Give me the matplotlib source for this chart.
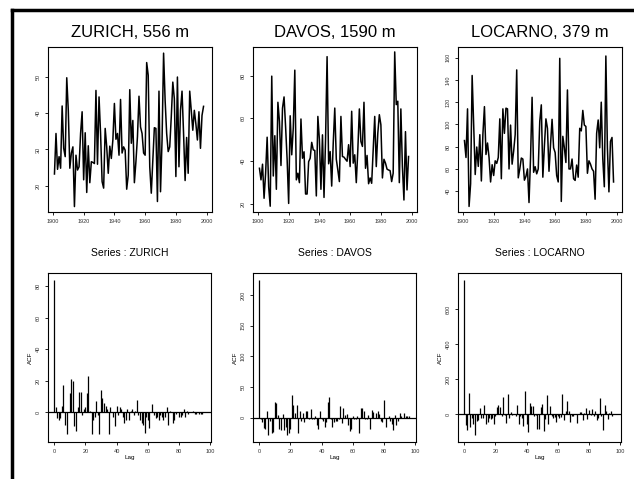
import matplotlib
matplotlib.use("Agg")
import matplotlib.pyplot as plt
from matplotlib.lines import Line2D

plt.rcParams['font.family'] = ['Liberation Sans', 'DejaVu Sans']

# jahre
jahre = list(range(1901, 1999))

zurich = [23.2, 34.4, 24.5, 28.0, 24.8, 42.0, 30.3, 28.0, 49.8, 40.8,
          24.8, 29.0, 30.7, 14.2, 28.4, 24.3, 25.2, 34.4, 40.4, 21.6,
          34.6, 18.1, 31.0, 20.8, 26.6, 26.4, 26.1, 46.3, 25.9, 44.5,
          34.4, 21.1, 19.3, 35.8, 30.7, 23.4, 30.9, 27.5, 32.6, 42.7,
          32.8, 34.4, 28.4, 43.8, 29.0, 30.7, 29.8, 19.0, 22.9, 46.5,
          31.7, 38.0, 20.8, 26.6, 33.5, 44.7, 36.2, 34.4, 29.0, 28.4,
          54.0, 50.5, 25.2, 17.9, 27.0, 36.0, 35.8, 15.6, 46.1, 18.3,
          32.6, 56.6, 43.6, 34.4, 29.4, 30.7, 39.0, 48.6, 44.0, 22.5,
          50.0, 25.2, 40.8, 46.1, 34.4, 21.4, 33.3, 23.4, 46.1, 40.8,
          35.3, 40.8, 37.1, 32.6, 40.4, 30.3, 39.4, 41.9]

davos = [36.7, 31.3, 38.6, 22.7, 34.4, 51.2, 28.0, 19.0, 79.7, 33.1,
         51.9, 26.9, 67.5, 58.6, 38.0, 64.8, 70.0, 56.2, 40.9, 20.3,
         61.2, 43.0, 55.5, 82.5, 31.3, 34.4, 30.0, 59.7, 41.4, 44.4,
         24.7, 24.7, 39.8, 41.4, 48.8, 45.3, 45.0, 23.8, 60.9, 50.0,
         26.9, 52.3, 23.1, 50.0, 88.8, 38.8, 44.5, 28.4, 48.4, 64.8,
         40.9, 35.9, 30.5, 60.9, 42.2, 41.9, 40.9, 40.0, 47.7, 37.5,
         63.3, 39.1, 43.0, 30.0, 45.3, 64.4, 49.2, 46.9, 67.5, 36.7,
         42.7, 29.5, 32.2, 29.7, 45.3, 60.9, 37.5, 53.1, 61.7, 57.0,
         32.2, 40.9, 39.1, 36.3, 35.9, 35.6, 30.5, 34.4, 91.0, 66.4,
         68.0, 30.0, 64.4, 37.5, 21.9, 53.8, 26.6, 42.2]

locarno = [85.5, 70.3, 114.0, 26.3, 46.7, 144.0, 99.4, 55.0, 79.7, 62.3,
           90.8, 49.2, 91.3, 116.0, 73.0, 83.3, 70.3, 48.3, 63.8, 54.1,
           67.3, 65.0, 70.3, 105.0, 51.2, 114.0, 92.0, 114.6, 114.0, 60.0,
           99.4, 64.3, 76.0, 90.8, 149.0, 52.0, 60.0, 69.8, 68.9, 49.9,
           53.3, 60.0, 29.8, 70.3, 124.4, 57.0, 62.0, 55.6, 60.0, 103.0,
           117.6, 52.6, 80.4, 105.0, 96.5, 57.9, 81.9, 104.6, 79.0, 74.7,
           54.1, 48.3, 159.4, 30.8, 89.3, 79.0, 65.8, 131.0, 60.0, 60.0,
           68.9, 51.2, 49.7, 63.5, 52.6, 96.5, 94.2, 112.6, 99.4, 98.2,
           56.1, 67.3, 64.3, 60.0, 57.9, 32.8, 92.0, 104.0, 79.0, 120.0,
           68.9, 44.0, 161.5, 79.0, 39.4, 84.8, 88.3, 48.3]

# lags 0..97
lags = list(range(0, 98))

acf_zurich = [84, 3, -4, -5, -4, 4, 17, -8, -14, 0,
              12, 21, 20, -9, -12, 3, 13, 13, -2, 2,
              3, 12, 23, 1, -14, -5, -3, 7, -2, -14,
              14, 9, 6, 4, 2, -14, 3, 0, -3, -9,
              4, -2, 3, 2, -3, -7, -5, 2, -5, 1,
              2, -2, 1, 8, -2, -5, -7, -8, -13, -3,
              -5, -10, 0, 5, -2, -4, -3, -5, -2, -3,
              -5, -3, 3, -8, 1, 0, -7, -5, -1, 0,
              -3, -3, -2, 2, -3, 1, -1, 0, 0, 1,
              -1, -1, 0, -1, -1, -1, 0, 0]

acf_davos = [225, -3, -8, -17, -18, 11, -28, -5, -26, -23,
             25, 24, 4, -19, -21, 5, -21, -15, -28, -25,
             -18, 36, 21, 7, 20, -25, 10, -5, 8, -8,
             11, 11, -2, 14, -3, -2, 2, -12, -18, 11,
             -2, -5, -15, -8, 25, 33, -3, -15, -8, -5,
             -6, -3, 19, -9, 15, 4, 6, -12, -22, -18,
             2, -2, -3, 2, -25, 16, 16, 11, -3, -2,
             4, -18, 13, 9, -1, 8, 10, 5, -5, -8,
             29, -15, -1, 2, -5, -11, -20, 4, -12, -6,
             7, 3, 0, 7, 2, 2, 2, 0]

acf_locarno = [765, -65, -90, 120, -75, -20, -55, -120, -40, -35,
               35, -20, -20, 50, -55, -45, -25, -30, -25, -55,
               -10, 40, 50, 40, -10, 95, -5, -50, 115, -25,
               10, -5, 0, -10, 50, -55, -10, -20, -70, 130,
               -55, -100, 65, 45, 45, -10, -5, -85, -85, 40,
               55, -95, -30, 110, -55, 45, -10, -20, -15, -45,
               -10, -20, -15, 115, -35, 20, 75, 15, -45, -10,
               -10, 0, -50, 0, 10, 10, -35, 5, 35, -30,
               25, -5, 30, -10, 20, -35, -25, 90, -10, -90,
               50, 15, -30, 5, 15, -10, 0, 0]

titel = ["ZURICH, 556 m", "DAVOS, 1590 m", "LOCARNO, 379 m"]
namen = ["ZURICH", "DAVOS", "LOCARNO"]

W, H = 634, 479
fig = plt.figure(figsize=(W / 100, H / 100), dpi=100)


def box(x0, y0, x1, y1):
    # pixel -> figure coords
    return [x0 / W, 1 - y1 / H, (x1 - x0) / W, (y1 - y0) / H]


def stil(ax):
    for s in ax.spines.values():
        s.set_linewidth(0.8)
    ax.tick_params(labelsize=4, length=2.5, width=0.6, pad=2.5, labelcolor='#333333')
    for lab in ax.get_yticklabels():
        lab.set_rotation(90)
        lab.set_va('center')


spalten = [(48, 212), (253, 417), (458, 622)]

# obere reihe: zeitreihen
reihen = [zurich, davos, locarno]
ylims = [(12.7, 58.3), (16.3, 93.3), (21.3, 169.6)]
yticks = [[20, 30, 40, 50], [20, 40, 60, 80], [40, 60, 80, 100, 120, 140, 160]]

for i in range(3):
    x0, x1 = spalten[i]
    ax = fig.add_axes(box(x0, 47, x1, 212))
    ax.plot(jahre, reihen[i], color='black', lw=1.1)
    ax.set_xlim(1896.8, 2003.5)
    ax.set_ylim(*ylims[i])
    ax.set_xticks([1900, 1920, 1940, 1960, 1980, 2000])
    ax.set_yticks(yticks[i])
    stil(ax)
    ax.set_title(titel[i], fontsize=12, pad=7)

# untere reihe: acf
acfs = [acf_zurich, acf_davos, acf_locarno]
alims = [(-19, 88.5), (-40, 236), (-160, 807)]
aticks = [[0, 20, 40, 60, 80], [0, 50, 100, 150, 200], [0, 200, 400, 600]]

for i in range(3):
    x0, x1 = spalten[i]
    ax = fig.add_axes(box(x0, 273, x1 - 1, 442))
    ax.vlines(lags, 0, acfs[i], color='black', lw=0.9)
    ax.axhline(0, color='black', lw=0.9)
    ax.set_xlim(-3.9, 100.5)
    ax.set_ylim(*alims[i])
    ax.set_xticks([0, 20, 40, 60, 80, 100])
    ax.set_yticks(aticks[i])
    stil(ax)
    ax.set_xlabel("Lag", fontsize=4.5, labelpad=1)
    ax.set_ylabel("ACF", fontsize=4.5, labelpad=2)
    ax.set_title("Series : " + namen[i], fontsize=7.5, pad=12)

# rahmen links und oben
fig.add_artist(Line2D([12 / W, 12 / W], [0, 1 - 10 / H], color='black', lw=2.5))
fig.add_artist(Line2D([12 / W, 1], [1 - 10 / H, 1 - 10 / H], color='black', lw=2.5))

fig.savefig("out.png", dpi=100)
